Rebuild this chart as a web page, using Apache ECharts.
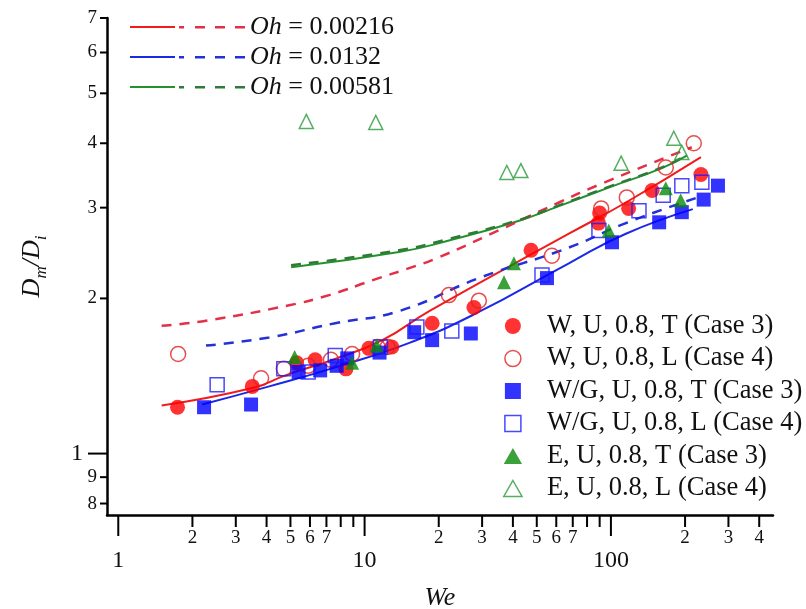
<!DOCTYPE html>
<html>
<head>
<meta charset="utf-8">
<script src="https://cdn.jsdelivr.net/npm/echarts@6/dist/echarts.min.js"></script>
<style>html,body{margin:0;background:#fff}#container{width:806px;height:609px}</style>
</head>
<body>
<div id="container"></div>
<script>
var X_MIN = 0.9, X_MAX = 455, Y_MIN = 0.76, Y_MAX = 7;
var FONT = '"Liberation Serif", "Times New Roman", serif';

// tick labels (log axes, drawn by hand so the minor ticks get their digits)
var xMajorTicks = [1, 10, 100];
var xMajorLabels = ['1', '10', '100'];
var xMinorTicks = [2, 3, 4, 5, 6, 7, 8, 9, 20, 30, 40, 50, 60, 70, 80, 90, 200, 300, 400];
var xMinorLabels = ['2', '3', '4', '5', '6', '7', '', '', '2', '3', '4', '5', '6', '7', '', '', '2', '3', '4'];
var yMajorTicks = [1];
var yMajorLabels = ['1'];
var yMinorTicks = [0.8, 0.9, 2, 3, 4, 5, 6, 7];
var yMinorLabels = ['8', '9', '2', '3', '4', '5', '6', '7'];

// fitted curves
var ohValues = ['0.00216', '0.0132', '0.00581'];
var ohColors = ['#f01c1c', '#1c28e6', '#24922c'];
var ohDashColors = ['#e33048', '#2430d8', '#2f7a36'];

var redSolid = [[1.5, 1.24], [3.5, 1.34], [4.8, 1.42], [7.4, 1.52], [11.8, 1.66], [18.3, 1.89], [67.5, 2.67], [115, 3.07], [232, 3.76]];
var redDashed = [[1.5, 1.77], [2.27, 1.81], [4.94, 1.94], [7.18, 2.03], [10.8, 2.17], [15.6, 2.30], [19.5, 2.39], [35, 2.71], [61.5, 3.07], [89, 3.32], [213, 3.93]];
var blueSolid = [[2.19, 1.245], [4.1, 1.35], [7.6, 1.47], [15.2, 1.64], [28.3, 1.87], [67.5, 2.34], [115, 2.67], [215, 2.98]];
var blueDashed = [[2.27, 1.62], [4.1, 1.68], [7.6, 1.79], [13.8, 1.89], [29.1, 2.19], [67.5, 2.51], [115, 2.80], [221, 3.13]];
var greenSolid = [[5.03, 2.30], [13.8, 2.46], [22, 2.59], [42.4, 2.83], [61.5, 3.02], [101, 3.30], [161, 3.58], [204, 3.79]];
var greenDashed = [[5.03, 2.32], [13.8, 2.48], [22, 2.61], [42.4, 2.84], [61.5, 3.03], [101, 3.31], [161, 3.59], [204, 3.80]];

// measurements
var markerNames = ['W, U, 0.8, T (Case 3)', 'W, U, 0.8, L (Case 4)', 'W/G, U, 0.8, T (Case 3)',
    'W/G, U, 0.8, L (Case 4)', 'E, U, 0.8, T (Case 3)', 'E, U, 0.8, L (Case 4)'];
var wT = [[1.74, 1.23], [3.5, 1.35], [5.3, 1.50], [6.3, 1.52], [8.4, 1.46], [10.4, 1.60], [12.9, 1.61], [18.8, 1.79],
    [27.8, 1.92], [47.4, 2.48], [89, 2.80], [90, 2.93], [118, 2.99], [147, 3.24], [232, 3.48]];
var wL = [[1.75, 1.56], [3.8, 1.40], [4.7, 1.46], [5.9, 1.48], [7.3, 1.52], [8.9, 1.56], [11.3, 1.61], [12.4, 1.61],
    [22, 2.03], [29.1, 1.98], [57.6, 2.42], [91.3, 2.99], [116, 3.14], [167, 3.59], [217, 4.0]];
var wgT = [[2.23, 1.23], [3.46, 1.245], [5.4, 1.44], [6.6, 1.45], [7.7, 1.48], [8.5, 1.53], [11.5, 1.57], [15.9, 1.72],
    [18.8, 1.66], [27, 1.71], [55, 2.19], [101, 2.57], [157, 2.81], [194, 2.94], [238, 3.11], [272, 3.31]];
var wgL = [[2.52, 1.36], [4.7, 1.46], [5.9, 1.44], [7.6, 1.55], [11.6, 1.61], [16.3, 1.76], [22.6, 1.73], [52.5, 2.22],
    [89.4, 2.71], [130, 2.96], [163, 3.17], [194, 3.31], [234, 3.36]];
var eT = [[5.2, 1.54], [8.9, 1.50], [11.2, 1.62], [36.8, 2.15], [40.4, 2.34], [98, 2.71], [167, 3.27], [192, 3.10]];
var eL = [[5.8, 4.41], [11.1, 4.39], [37.8, 3.51], [43.1, 3.54], [110, 3.66], [180, 4.09], [194, 3.84]];

var dom = document.getElementById('container');
var myChart = echarts.init(dom, null, {renderer: 'canvas'});

function tickRender(dir, len, labels, fontSize, gap) {
    return function (params, api) {
        var p = api.coord([api.value(0), api.value(1)]);
        var x2 = p[0], y2 = p[1], tx, ty, align;
        if (dir === 'x') {
            y2 = p[1] + len; tx = p[0]; ty = y2 + gap; align = 'center';
        } else {
            x2 = p[0] - len; tx = x2 - gap; ty = p[1]; align = 'right';
        }
        return {
            type: 'group',
            children: [
                {type: 'line', shape: {x1: p[0], y1: p[1], x2: x2, y2: y2}, style: {stroke: '#000', lineWidth: 2}},
                {type: 'text', style: {text: labels[params.dataIndex], x: tx, y: ty, align: align, verticalAlign: 'middle',
                    fontSize: fontSize, fontFamily: FONT, fill: '#111'}}
            ]
        };
    };
}

function tickSeries(dir, ticks, labels, len, fontSize, gap) {
    return {
        type: 'custom',
        silent: true,
        clip: false,
        z: 5,
        renderItem: tickRender(dir, len, labels, fontSize, gap),
        data: ticks.map(function (v) { return dir === 'x' ? [v, Y_MIN] : [X_MIN, v]; })
    };
}

var series = [];
var solidNames = [], dashedNames = [];
[redSolid, blueSolid, greenSolid].forEach(function (d, i) {
    var name = 'Oh = ' + ohValues[i];
    solidNames.push(name);
    series.push({name: name, type: 'line', smooth: true, symbol: 'none', data: d, z: 2,
        color: ohColors[i], lineStyle: {width: 2, color: ohColors[i]}});
});
[redDashed, blueDashed, greenDashed].forEach(function (d, i) {
    var name = 'Oh = ' + ohValues[i] + ' (dashed)';
    dashedNames.push(name);
    series.push({name: name, type: 'line', smooth: true, symbol: 'none', data: d, z: 2,
        color: ohDashColors[i], lineStyle: {width: 2.5, color: ohDashColors[i], type: [10, 8]}});
});

var markerSymbols = ['circle', 'circle', 'rect', 'rect', 'triangle', 'triangle'];
var markerIcons = ['circle', 'circle', 'path://M0,0h16v16h-16z', 'path://M0,0h16v16h-16z',
    'path://M8,0L16,14L0,14Z', 'path://M8,0L16,14L0,14Z'];
var markerColors = ['#ff0000', '#e02020', '#0000ff', '#1a1aff', '#0a8a0a', '#2a9a3a'];
var markerFilled = [true, false, true, false, true, false];
var markerSizes = [15, 15, 14, 14, 14, 14];
var markerStyles = markerColors.map(function (c, i) {
    return markerFilled[i] ? {color: c} : {color: 'rgba(255,255,255,0)', borderColor: c, borderWidth: 1.5};
});
[wT, wL, wgT, wgL, eT, eL].forEach(function (d, i) {
    series.push({name: markerNames[i], type: 'scatter', symbol: markerSymbols[i], symbolSize: markerSizes[i],
        data: d, z: 3, itemStyle: markerStyles[i]});
});

series.push(tickSeries('x', xMinorTicks, xMinorLabels, 12, 19, 11));
series.push(tickSeries('x', xMajorTicks, xMajorLabels, 21, 24, 25));
series.push(tickSeries('y', yMinorTicks, yMinorLabels, 7, 19, 3));
series.push(tickSeries('y', yMajorTicks, yMajorLabels, 19, 24, 5));

// legend icons: hair-thin bars at top and bottom keep every row 30px tall
var solidIcon = 'path://M0,0h45v0.01h-45z M0,14h45v2h-45z M0,30h45v0.01h-45z';
var dashIcon = 'path://M0,0h66v0.01h-66z M0,14h5v2.5h-5z M16,14h10v2.5h-10z M36,14h10v2.5h-10z M56,14h10v2.5h-10z M0,30h66v0.01h-66z';

var option = {
    animation: false,
    backgroundColor: '#fff',
    grid: {left: 107, right: 33, top: 18, bottom: 94, containLabel: false, outerBoundsMode: 'none'},
    xAxis: {
        type: 'log', min: X_MIN, max: X_MAX,
        name: 'We', nameLocation: 'middle', nameGap: 70,
        nameTextStyle: {fontFamily: FONT, fontSize: 26, fontStyle: 'italic', color: '#111'},
        axisLine: {lineStyle: {color: '#000', width: 2.5}},
        axisTick: {show: false}, axisLabel: {show: false}, splitLine: {show: false}
    },
    yAxis: {
        type: 'log', min: Y_MIN, max: Y_MAX,
        name: '{a|D}{b|m}{a|/D}{b|i}', nameLocation: 'middle', nameGap: 57, nameRotate: 90,
        nameTextStyle: {fontFamily: FONT, fontSize: 26, fontStyle: 'italic', color: '#111',
            rich: {
                a: {fontFamily: FONT, fontSize: 26, fontStyle: 'italic', color: '#111', lineHeight: 30},
                b: {fontFamily: FONT, fontSize: 17, fontStyle: 'italic', color: '#111', lineHeight: 36, verticalAlign: 'bottom'}
            }},
        axisLine: {lineStyle: {color: '#000', width: 2.5}},
        axisTick: {show: false}, axisLabel: {show: false}, splitLine: {show: false}
    },
    legend: [
        {
            data: solidNames, left: 130, top: 12, padding: 0, orient: 'vertical', itemWidth: 45, itemHeight: 30, itemGap: 0,
            icon: solidIcon, selectedMode: false, formatter: function () { return ''; },
            textStyle: {fontSize: 1, lineHeight: 30}
        },
        {
            data: dashedNames, left: 179, top: 12, padding: 0, orient: 'vertical', itemWidth: 66, itemHeight: 30, itemGap: 0,
            icon: dashIcon, selectedMode: false,
            formatter: function (name) { return '{i|Oh} = ' + name.split(' = ')[1].replace(' (dashed)', ''); },
            textStyle: {fontFamily: FONT, fontSize: 26, lineHeight: 30, color: '#111',
                rich: {i: {fontFamily: FONT, fontSize: 26, fontStyle: 'italic', color: '#111', lineHeight: 30}}}
        },
        {
            data: markerNames.map(function (n, i) { return {name: n, icon: markerIcons[i], itemStyle: markerStyles[i]}; }),
            left: 498, top: 305, orient: 'vertical', itemWidth: 58, itemHeight: 16, itemGap: 0.5,
            selectedMode: false,
            textStyle: {fontFamily: FONT, fontSize: 26.5, lineHeight: 32, color: '#111'}
        }
    ],
    series: series
};

myChart.setOption(option);
</script>
</body>
</html>
